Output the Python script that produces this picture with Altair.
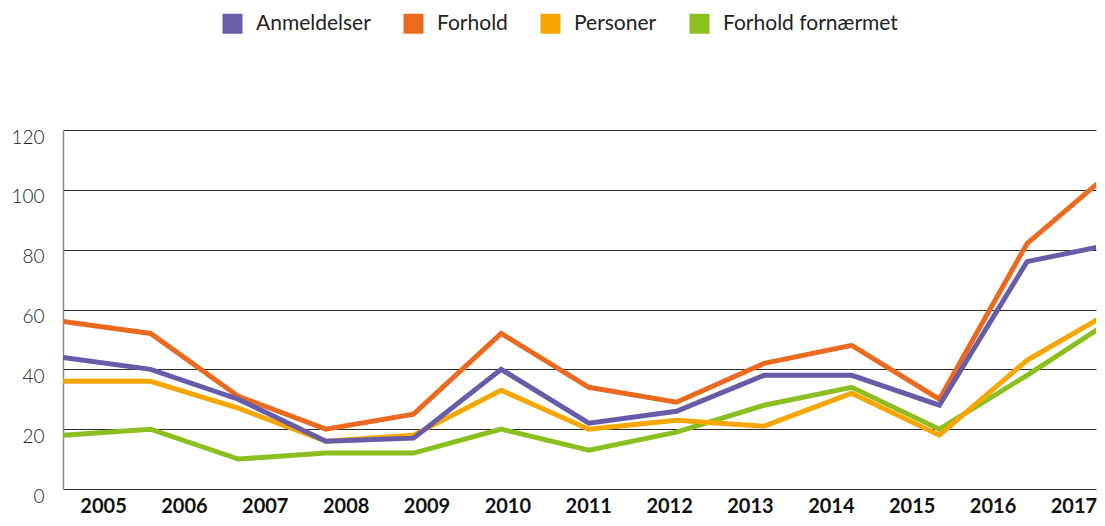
import altair as alt
import pandas as pd

years = list(range(2005, 2018))
series_names = ["Anmeldelser", "Forhold", "Personer", "Forhold fornærmet"]
anmeldelser = [44, 40, 30, 16, 17, 40, 22, 26, 38, 38, 28, 76, 82]
forhold = [56, 52, 31, 20, 25, 52, 34, 29, 42, 48, 30, 82, 107]
personer = [36, 36, 27, 16, 18, 33, 20, 23, 21, 32, 18, 43, 60]
fornaermet = [18, 20, 10, 12, 12, 20, 13, 19, 28, 34, 20, 38, 57]
colors = ["#675ca8", "#ec6a1f", "#f7a600", "#8dbe1f"]
y_ticks = [0, 20, 40, 60, 80, 100, 120]
# The source chart is cut off at the right edge, just before the 2017 point,
# and its year labels are spaced a little tighter than the data points.
line_x_domain = [2005, 2016.787]
label_x_domain = [2004.505, 2017.279]

rows = []
for name, vals in zip(series_names, [anmeldelser, forhold, personer, fornaermet]):
    for yr, v in zip(years, vals):
        rows.append({"year": yr, "value": v, "serie": name})
df = pd.DataFrame(rows)
df_years = pd.DataFrame({"year": years})

FONT = "Lato"

color = alt.Color(
    "serie:N",
    scale=alt.Scale(domain=series_names, range=colors),
    legend=alt.Legend(
        title=None,
        orient="none",
        direction="horizontal",
        legendX=159,
        legendY=-117,
        symbolType="square",
        symbolSize=100,
        symbolStrokeWidth=10,
        labelFont=FONT,
        labelFontSize=21,
        labelColor="#222222",
        labelOffset=13,
        labelLimit=400,
        columnPadding=17,
    ),
)

x_q = alt.X(
    "year:Q",
    scale=alt.Scale(domain=line_x_domain, nice=False, zero=False),
    axis=None,
)
y_q = alt.Y(
    "value:Q",
    scale=alt.Scale(domain=[0, 120], nice=False),
    axis=alt.Axis(
        values=y_ticks,
        title=None,
        grid=True,
        gridColor="#2a2a2a",
        gridWidth=1,
        domain=True,
        domainColor="#8a8a8a",
        domainWidth=1.5,
        ticks=False,
        labelFont=FONT,
        labelFontSize=19,
        labelFontWeight=300,
        labelColor="#222222",
        labelPadding=19,
        labelOffset=7,
        minExtent=55,
        maxExtent=55,
    ),
)

draw_order = ["Forhold fornærmet", "Personer", "Forhold", "Anmeldelser"]
layers = []
for name in draw_order:
    layers.append(
        alt.Chart(df)
        .transform_filter(alt.datum.serie == name)
        .mark_line(strokeWidth=5, clip=True)
        .encode(x=x_q, y=y_q, color=color)
    )

lines = alt.layer(*layers)

xaxis_layer = (
    alt.Chart(df_years)
    .mark_tick(opacity=0)
    .encode(
        x=alt.X(
            "year:Q",
            scale=alt.Scale(domain=label_x_domain, nice=False, zero=False),
            axis=alt.Axis(
                values=years,
                format="d",
                title=None,
                domain=False,
                ticks=False,
                grid=False,
                labelAngle=0,
                labelFont=FONT,
                labelFontSize=20,
                labelFontWeight="bold",
                labelColor="#111111",
                labelPadding=7,
                labelFlush=False,
                labelOverlap=False,
            ),
        )
    )
)

chart = (
    alt.layer(lines, xaxis_layer)
    .resolve_scale(x="independent")
    .properties(width=1033, height=359, padding={"left": 0, "top": 5, "right": 0, "bottom": 0})
    .configure_view(strokeWidth=0)
)

chart.save("out.html", embed_options={"renderer": "svg", "actions": False})
